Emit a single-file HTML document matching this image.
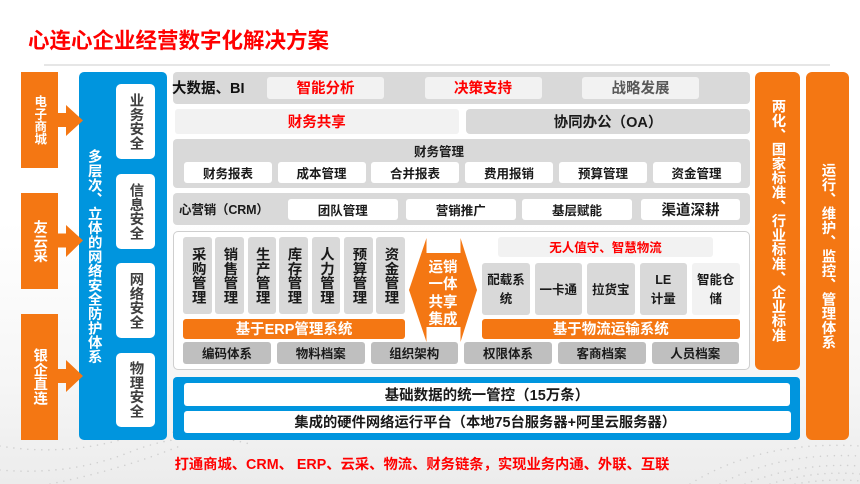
<!DOCTYPE html>
<html lang="zh"><head><meta charset="utf-8"><title>心连心企业经营数字化解决方案</title>
<style>
html,body{margin:0;padding:0;width:860px;height:484px;overflow:hidden;background:#fff}
#p{position:relative;width:860px;height:484px;overflow:hidden;font-family:"Liberation Sans","Noto Sans CJK SC",sans-serif;font-weight:700;color:#1a1a1a;background:linear-gradient(180deg,#fff 0,#fff 220px,#f6f6f6 380px,#ececec 484px);filter:blur(.25px)}
#p div{position:absolute;box-sizing:border-box}
.c{display:flex;align-items:center;justify-content:center;text-align:center;font-size:12.5px;line-height:1.2;border-radius:3px;white-space:nowrap;padding-top:3px}
.g{background:#d9d9d9}.l{background:#f2f2f2}.w{background:#fff}.d{background:#bfbfbf}
.o{background:#f47713;color:#fff}.b{background:#0095de}
.r{color:#f00}
.t{font-size:14.5px;padding-top:4px}
.n{padding-top:0}
.v{writing-mode:vertical-rl;text-orientation:upright;font-size:14.4px;line-height:1;letter-spacing:-.2px;white-space:nowrap}
svg{position:absolute;left:0;top:0}
</style></head><body><div id="p">
<svg width="860" height="484" viewBox="0 0 860 484">
<g fill="none" stroke="#d0d0d0" stroke-width="1.6" stroke-dasharray="0 7" stroke-linecap="round">
<path d="M0 446 Q60 456 120 440 T260 440"/><path d="M0 470 Q70 476 130 452 T250 444"/><path d="M50 484 Q120 470 180 446"/>
<path d="M690 484 Q760 440 860 446"/><path d="M720 484 Q780 452 860 456"/><path d="M745 484 Q800 462 860 466"/><path d="M770 484 Q815 470 860 474"/><path d="M795 484 Q830 478 860 481"/>
</g>
<path d="M44 65H830" stroke="#dedede" stroke-width="1.5"/>
</svg>

<div class="c" style="left:28px;top:29px;width:302px;height:26px;font-size:21.500px;color:#f00;justify-content:flex-start;padding-top:0">心连心企业经营数字化解决方案</div>

<div class="c o n" style="left:20.500px;top:72px;width:37px;height:96px;border-radius:0"><span class="v" style="font-size:12.5px;letter-spacing:0">电子商城</span></div>
<div class="c o n" style="left:20.500px;top:193px;width:37px;height:96px;border-radius:0"><span class="v">友云采</span></div>
<div class="c o n" style="left:20.500px;top:313.500px;width:37px;height:126.500px;border-radius:0"><span class="v">银企直连</span></div>

<div class="b" style="left:78.500px;top:72px;width:88px;height:368px;border-radius:5px"></div>
<div class="c n" style="left:85.500px;top:72px;width:16px;height:368px;color:#fff"><span class="v" style="letter-spacing:-.1px">多层次、立体的网络安全防护体系</span></div>
<div class="c w n" style="left:115.500px;top:84px;width:39.500px;height:75px;color:#404040;border-radius:5px"><span class="v">业务安全</span></div>
<div class="c w n" style="left:115.500px;top:173.500px;width:39.500px;height:75.500px;color:#404040;border-radius:5px"><span class="v">信息安全</span></div>
<div class="c w n" style="left:115.500px;top:263px;width:39.500px;height:75px;color:#404040;border-radius:5px"><span class="v">网络安全</span></div>
<div class="c w n" style="left:115.500px;top:352.500px;width:39.500px;height:74.500px;color:#404040;border-radius:5px"><span class="v">物理安全</span></div>

<div class="g" style="left:173px;top:72px;width:577px;height:32px;border-radius:4px"></div>
<div class="c t" style="left:172px;top:76px;width:72px;height:24px;color:#111;justify-content:flex-start">大数据、BI</div>
<div class="c l r t" style="left:267px;top:77px;width:117px;height:22px">智能分析</div>
<div class="c l r t" style="left:424.500px;top:77px;width:117px;height:22px">决策支持</div>
<div class="c l t" style="left:582px;top:77px;width:117px;height:22px;color:#595959">战略发展</div>

<div class="c l r t" style="left:174.500px;top:108.500px;width:284.500px;height:25.500px">财务共享</div>
<div class="c g t" style="left:466px;top:108.500px;width:284px;height:25.500px;border-radius:4px">协同办公（OA）</div>

<div class="g" style="left:173px;top:139px;width:577px;height:49px;border-radius:4px"></div>
<div class="c" style="left:380px;top:143px;width:118px;height:15px">财务管理</div>
<div class="c w" style="left:184px;top:162px;width:88px;height:21px">财务报表</div>
<div class="c w" style="left:277.500px;top:162px;width:88px;height:21px">成本管理</div>
<div class="c w" style="left:371px;top:162px;width:88px;height:21px">合并报表</div>
<div class="c w" style="left:465px;top:162px;width:88px;height:21px">费用报销</div>
<div class="c w" style="left:559px;top:162px;width:88px;height:21px">预算管理</div>
<div class="c w" style="left:652.500px;top:162px;width:88px;height:21px">资金管理</div>

<div class="g" style="left:173px;top:193px;width:577px;height:32px;border-radius:4px"></div>
<div class="c" style="left:179px;top:200px;width:90px;height:17px;justify-content:flex-start;letter-spacing:-.15px">心营销（CRM）</div>
<div class="c w" style="left:287.500px;top:199px;width:110.500px;height:21px">团队管理</div>
<div class="c w" style="left:405.500px;top:199px;width:110.500px;height:21px">营销推广</div>
<div class="c w" style="left:522px;top:199px;width:110px;height:21px">基层赋能</div>
<div class="c w t" style="left:641px;top:199px;width:99px;height:21px">渠道深耕</div>

<div style="left:173px;top:231px;width:577px;height:138.500px;border:1.500px solid #cfcfcf;border-radius:5px;background:#fff"></div>
<div class="c g n" style="left:183px;top:237px;width:29px;height:77px"><span class="v">采购管理</span></div>
<div class="c g n" style="left:215px;top:237px;width:28.500px;height:77px"><span class="v">销售管理</span></div>
<div class="c g n" style="left:247.500px;top:237px;width:28px;height:77px"><span class="v">生产管理</span></div>
<div class="c g n" style="left:279px;top:237px;width:28.500px;height:77px"><span class="v">库存管理</span></div>
<div class="c g n" style="left:311.500px;top:237px;width:28.500px;height:77px"><span class="v">人力管理</span></div>
<div class="c g n" style="left:344px;top:237px;width:28.500px;height:77px"><span class="v">预算管理</span></div>
<div class="c g n" style="left:376px;top:237px;width:28.500px;height:77px"><span class="v">资金管理</span></div>
<div class="c o t" style="left:183px;top:319px;width:222px;height:19.500px">基于ERP管理系统</div>

<div class="c l r" style="left:498px;top:237px;width:215px;height:20px">无人值守、智慧物流</div>
<div class="c g" style="left:482px;top:263px;width:48px;height:51.500px;line-height:19px">配载系<br>统</div>
<div class="c g" style="left:534.500px;top:263px;width:47.500px;height:51.500px">一卡通</div>
<div class="c g" style="left:587px;top:263px;width:47.500px;height:51.500px">拉货宝</div>
<div class="c g" style="left:639.500px;top:263px;width:47.500px;height:51.500px;line-height:19px">LE<br>计量</div>
<div class="c l" style="left:692px;top:263px;width:47.500px;height:51.500px;line-height:19px">智能仓<br>储</div>
<div class="c o t" style="left:482px;top:319px;width:257.500px;height:19.500px">基于物流运输系统</div>

<div class="c d" style="left:183px;top:342px;width:88px;height:21.500px">编码体系</div>
<div class="c d" style="left:277px;top:342px;width:87.500px;height:21.500px">物料档案</div>
<div class="c d" style="left:370.500px;top:342px;width:87.500px;height:21.500px">组织架构</div>
<div class="c d" style="left:464px;top:342px;width:88px;height:21.500px">权限体系</div>
<div class="c d" style="left:557.500px;top:342px;width:88px;height:21.500px">客商档案</div>
<div class="c d" style="left:651.500px;top:342px;width:87.500px;height:21.500px">人员档案</div>

<div class="o" style="left:755px;top:72px;width:44.500px;height:297.500px;border-radius:6px"></div>
<div class="c n" style="left:755px;top:72px;width:44.500px;height:297.500px;color:#fff"><span class="v" style="letter-spacing:-.1px">两化、国家标准、行业标准、企业标准</span></div>
<div class="o" style="left:805.500px;top:72px;width:43.500px;height:368px;border-radius:6px"></div>
<div class="c n" style="left:805.500px;top:72px;width:43.500px;height:368px;color:#fff"><span class="v" style="letter-spacing:-.1px">运行、维护、监控、管理体系</span></div>

<div class="b" style="left:173px;top:377px;width:627px;height:63px;border-radius:4px"></div>
<div class="c w t" style="left:184px;top:383px;width:606px;height:22.500px">基础数据的统一管控（15万条）</div>
<div class="c w t" style="left:184px;top:411px;width:606.500px;height:22px;font-size:14.3px;padding-right:4px">集成的硬件网络运行平台（本地75台服务器+阿里云服务器）</div>

<div class="c r t" style="left:170px;top:453px;width:504px;height:21px;font-size:14.3px">打通商城、CRM、 ERP、云采、物流、财务链条，实现业务内通、外联、互联</div>

<svg width="860" height="484" viewBox="0 0 860 484">
<g fill="#f47713">
<polygon points="57,113 66,113 66,105 83,120.500 66,136 66,127 57,127"/>
<polygon points="57,233.500 66,233.500 66,225 83,240.500 66,257 66,247.500 57,247.500"/>
<polygon points="57,369 66,369 66,360 83,376 66,392 66,383 57,383"/>
<polygon points="409,290 426.500,238 426.500,253 460.500,253 460.500,238 477,290 460.500,342 460.500,327 426.500,327 426.500,342"/>
</g>
</svg>
<div class="c" style="left:423px;top:258px;width:40px;height:70px;color:#fff;font-size:14.500px;line-height:17.500px">运销<br>一体<br>共享<br>集成</div>
</div></body></html>
